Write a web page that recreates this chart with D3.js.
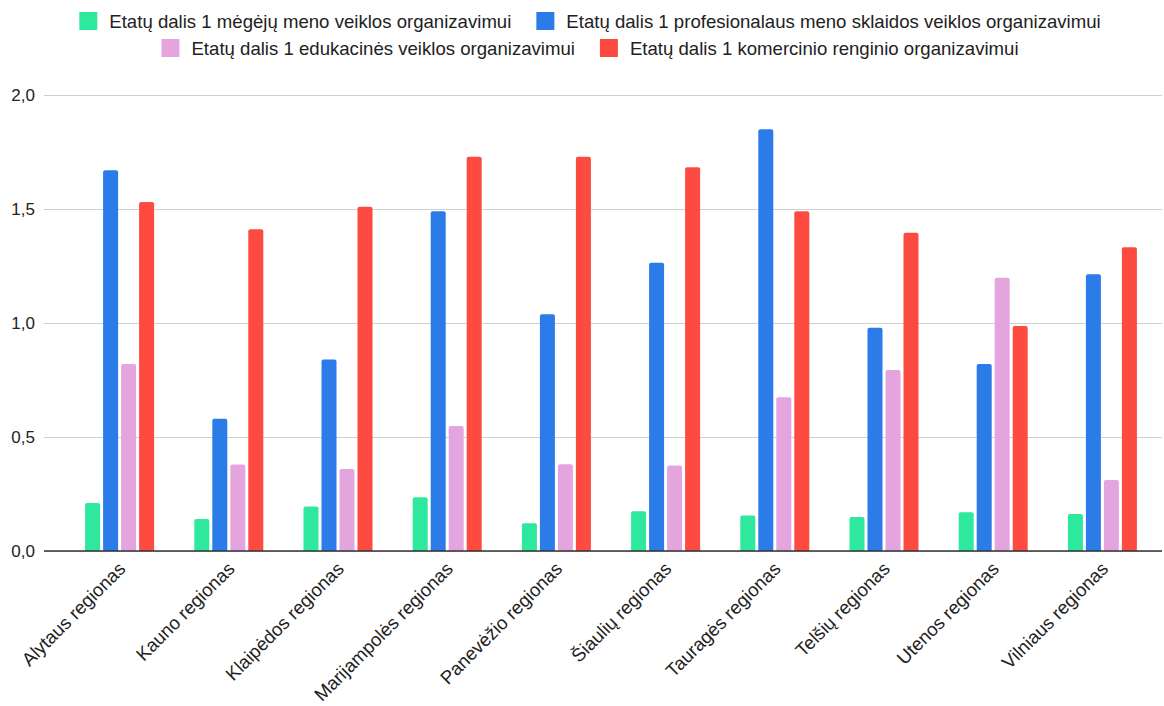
<!DOCTYPE html>
<html>
<head>
<meta charset="utf-8">
<script src="https://cdn.jsdelivr.net/npm/d3@7"></script>
<style>
  html, body { margin: 0; padding: 0; background: #ffffff; }
  svg { display: block; font-family: "Liberation Sans", Arial, sans-serif; }
</style>
</head>
<body>
<svg id="chart" width="1164" height="706"></svg>
<script>
const categories = ["Alytaus regionas", "Kauno regionas", "Klaipėdos regionas", "Marijampolės regionas", "Panevėžio regionas", "Šiaulių regionas", "Tauragės regionas", "Telšių regionas", "Utenos regionas", "Vilniaus regionas"];
const seriesNames = [
  "Etatų dalis 1 mėgėjų meno veiklos organizavimui",
  "Etatų dalis 1 profesionalaus meno sklaidos veiklos organizavimui",
  "Etatų dalis 1 edukacinės veiklos organizavimui",
  "Etatų dalis 1 komercinio renginio organizavimui"
];
const megeju = [0.21, 0.14, 0.195, 0.236, 0.122, 0.174, 0.156, 0.149, 0.17, 0.162];
const profesionalaus = [1.67, 0.58, 0.84, 1.49, 1.038, 1.264, 1.85, 0.979, 0.82, 1.214];
const edukacines = [0.82, 0.379, 0.36, 0.548, 0.381, 0.375, 0.674, 0.794, 1.199, 0.311];
const komercinio = [1.531, 1.411, 1.51, 1.729, 1.729, 1.683, 1.49, 1.396, 0.987, 1.332];
const yTicks = [0, 0.5, 1.0, 1.5, 2.0];
const colors = ["#2ee89d", "#2b7be8", "#e4a5df", "#fe4b41"];

const seriesValues = [megeju, profesionalaus, edukacines, komercinio];

const svg = d3.select("#chart");
const plotLeft = 44, plotRight = 1162;
const y = d3.scaleLinear().domain([0, 2]).range([551, 95]);
const x0 = d3.scaleBand().domain(categories).range([65, 1157]).paddingInner(0).paddingOuter(0);
const x1 = d3.scaleBand().domain(d3.range(seriesNames.length)).range([0, 69]).paddingInner(1/6).paddingOuter(0);

const locale = d3.formatLocale({decimal: ",", thousands: " ", grouping: [3], currency: ["", "€"]});
const fmt = locale.format(".1f");

// gridlines
const yAxis = d3.axisLeft(y).tickValues(yTicks).tickSize(-(plotRight - plotLeft)).tickFormat(fmt).tickPadding(9);
const gy = svg.append("g").attr("transform", `translate(${plotLeft},0)`).call(yAxis);
gy.select(".domain").remove();
gy.selectAll(".tick line").attr("stroke", "#d0d0d0").attr("stroke-width", 1.2);
gy.selectAll(".tick text").attr("font-size", 17).attr("fill", "#222").attr("font-family", "Liberation Sans, Arial, sans-serif");

// bars
function barPath(x, yTop, w, yBase, r) {
  r = Math.min(r, (yBase - yTop));
  return `M${x},${yBase}V${yTop + r}Q${x},${yTop} ${x + r},${yTop}H${x + w - r}Q${x + w},${yTop} ${x + w},${yTop + r}V${yBase}Z`;
}
const groups = svg.append("g").selectAll("g").data(categories).join("g")
  .attr("transform", d => `translate(${x0(d) + x0.bandwidth() / 2 - 34.5},0)`);
groups.selectAll("path").data((d, i) => seriesValues.map((s, k) => ({k, v: s[i]}))).join("path")
  .attr("d", d => barPath(x1(d.k), y(d.v), x1.bandwidth(), y(0), 2))
  .attr("fill", d => colors[d.k]);

// baseline
svg.append("line").attr("x1", plotLeft).attr("x2", plotRight).attr("y1", y(0)).attr("y2", y(0))
  .attr("stroke", "#333").attr("stroke-width", 1.5);

// x labels
const xAxis = d3.axisBottom(x0).tickSize(0).tickPadding(0);
const gx = svg.append("g").call(xAxis);
gx.select(".domain").remove();
gx.selectAll(".tick").attr("transform", d => `translate(${x0(d) + x0.bandwidth() / 2 + 7},570)`);
gx.selectAll(".tick text")
  .attr("font-size", 18.6).attr("fill", "#222").attr("font-family", "Liberation Sans, Arial, sans-serif")
  .attr("text-anchor", "end").attr("dy", 0).attr("y", 0).attr("x", 0)
  .attr("transform", "rotate(-45)");

// legend
const legendRows = [[0, 1], [2, 3]];
const rowY = [21, 48];
const sq = 18, gapT = 12, gapItem = 25, legendCenter = 590;
legendRows.forEach((row, ri) => {
  const g = svg.append("g");
  let cursor = 0;
  row.forEach(k => {
    g.append("rect").attr("x", cursor).attr("y", rowY[ri] - sq / 2).attr("width", sq).attr("height", sq)
      .attr("fill", colors[k]);
    const t = g.append("text").attr("x", cursor + sq + gapT).attr("y", rowY[ri]).attr("dy", "0.35em")
      .attr("font-size", 18.6).attr("fill", "#222").text(seriesNames[k]);
    cursor += sq + gapT + t.node().getComputedTextLength() + gapItem;
  });
  const total = cursor - gapItem;
  g.attr("transform", `translate(${legendCenter - total / 2},0)`);
});
</script>
</body>
</html>
